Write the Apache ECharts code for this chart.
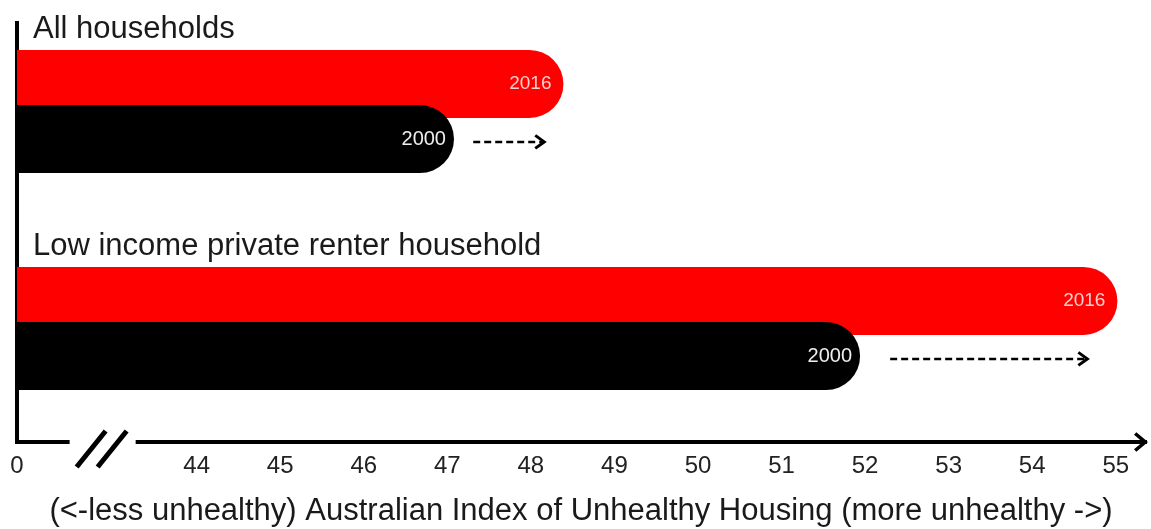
<!DOCTYPE html>
<html><head><meta charset="utf-8">
<script src="https://cdn.jsdelivr.net/npm/echarts@6/dist/echarts.min.js"></script>
<style>html,body{margin:0;padding:0;background:#fff}#c{width:1151px;height:529px}</style>
</head><body><div id="c"></div>
<script>
// ---- data ----
const groups = ['All households', 'Low income private renter household'];
const years = ['2016', '2000'];
const values2016 = [48.39, 55.02];
const values2000 = [47.08, 51.94];
const arrowStarts = [47.31, 52.30];
const arrowEnds = [48.16, 54.66];
const tickValues = [44, 45, 46, 47, 48, 49, 50, 51, 52, 53, 54, 55];
const zeroLabel = '0';
const axisMin = 41.85;
const axisMax = 55.35;
const breakRange = [42.48, 43.27];
const axisTitle = '(<-less unhealthy) Australian Index of Unhealthy Housing (more unhealthy ->)';

const FONT = '"Liberation Sans", Arial, sans-serif';
const chart = echarts.init(document.getElementById('c'), null, {renderer: 'canvas'});

const gridA = {left: 17, width: 1128, top: 3, height: 434, containLabel: false, outerBoundsMode: 'none'};
const gridB = {left: 17, width: 1128, top: 23, height: 419, containLabel: false, outerBoundsMode: 'none'};

const option = {
  animation: false,
  backgroundColor: '#fff',
  grid: [gridA, gridB],
  xAxis: [
    {type: 'value', gridIndex: 0, min: axisMin, max: axisMax, show: false},
    {type: 'value', gridIndex: 1, min: axisMin, max: axisMax,
      axisLine: {show: true, symbol: ['none', 'path://M10.5,0 L21,12.5 L18.3,15 L10.5,5.8 L2.7,15 L0,12.5 Z'],
        symbolSize: [20, 14], symbolOffset: [0, -4],
        lineStyle: {color: '#000', width: 4, cap: 'square'}},
      axisTick: {show: false},
      splitLine: {show: false},
      axisLabel: {customValues: [axisMin].concat(tickValues), margin: 12,
        formatter: v => (v < tickValues[0] ? zeroLabel : String(v)),
        color: '#222', fontSize: 24, fontFamily: FONT},
      name: axisTitle, nameLocation: 'middle', nameGap: 54,
      nameTextStyle: {color: '#1a1a1a', fontSize: 31, fontFamily: FONT}
    }
  ],
  yAxis: [
    {type: 'category', gridIndex: 0, data: groups, inverse: true, show: false},
    {type: 'value', gridIndex: 1, min: 0, max: 1,
      axisLine: {show: true, lineStyle: {color: '#000', width: 4, cap: 'square'}},
      axisTick: {show: false}, axisLabel: {show: false}, splitLine: {show: false}}
  ],
  series: [
    {name: years[0], type: 'bar', xAxisIndex: 0, yAxisIndex: 0, data: values2016,
      barWidth: 68, barGap: '-19%',
      itemStyle: {color: '#ff0000', borderRadius: [0, 34, 34, 0]},
      label: {show: true, position: 'insideRight', distance: 12, formatter: '{a}',
        color: '#f6cfcf', fontSize: 19, fontFamily: FONT}},
    {name: years[1], type: 'bar', xAxisIndex: 0, yAxisIndex: 0, data: values2000,
      barWidth: 68, barGap: '-19%',
      itemStyle: {color: '#000000', borderRadius: [0, 34, 34, 0]},
      label: {show: true, position: 'insideRight', distance: 8, formatter: '{a}',
        color: '#eeeeee', fontSize: 20, fontFamily: FONT}},
    {type: 'custom', xAxisIndex: 0, yAxisIndex: 0, clip: false,
      data: groups.map((g, i) => [arrowStarts[i], i, arrowEnds[i]]),
      encode: {x: [0, 2], y: 1},
      renderItem: function (params, api) {
        const cat = api.value(1);
        const p0 = api.coord([api.value(0), cat]);
        const p1 = api.coord([api.value(2), cat]);
        const band = api.size([0, 1])[1];
        const cs = params.coordSys;
        const yA = p0[1] + band * 0.14;
        const yL = p0[1] - band * 0.38;
        return {type: 'group', children: [
          {type: 'line', shape: {x1: p0[0], y1: yA, x2: p1[0] - 2, y2: yA},
            style: {stroke: '#000', lineWidth: 2.5, lineDash: [7, 4]}},
          {type: 'polyline', shape: {points: [[p1[0] - 9, yA - 6.5], [p1[0], yA], [p1[0] - 9, yA + 6.5]]},
            style: {stroke: '#000', fill: null, lineWidth: 3}},
          {type: 'text', x: cs.x + 16, y: yL,
            style: {text: groups[params.dataIndex], fontSize: 31, fontFamily: FONT, fill: '#1a1a1a',
              align: 'left', verticalAlign: 'middle'}}
        ]};
      }}
  ]
};
chart.setOption(option);

// axis break decoration on the x axis
const b0 = chart.convertToPixel({gridIndex: 1}, [breakRange[0], 0]);
const b1 = chart.convertToPixel({gridIndex: 1}, [breakRange[1], 0]);
const ay = b0[1];
const bx = b0[0];
chart.setOption({graphic: [
  {type: 'rect', z: 100, shape: {x: b0[0], y: ay - 5, width: b1[0] - b0[0], height: 10}, style: {fill: '#fff'}},
  {type: 'line', z: 101, shape: {x1: bx + 7, y1: ay + 25, x2: bx + 36, y2: ay - 11}, style: {stroke: '#000', lineWidth: 5}},
  {type: 'line', z: 101, shape: {x1: bx + 28, y1: ay + 25, x2: bx + 57, y2: ay - 11}, style: {stroke: '#000', lineWidth: 5}}
]});
</script>
</body></html>
